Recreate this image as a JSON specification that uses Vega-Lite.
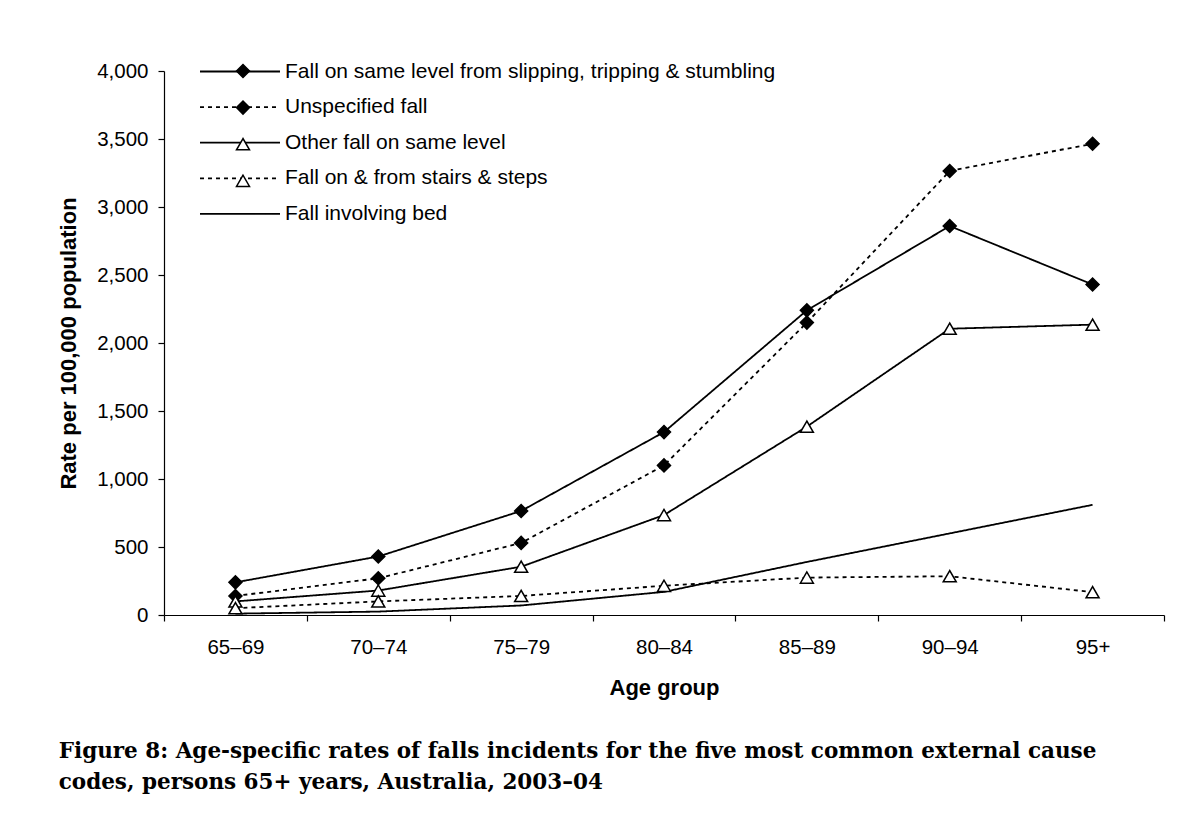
{
  "$schema": "https://vega.github.io/schema/vega-lite/v6.json",
  "width": 1000,
  "height": 544,
  "autosize": {"type": "none"},
  "padding": {"left": 164, "top": 71, "right": 30, "bottom": 206},
  "background": "white",
  "config": {
    "font": "Liberation Sans",
    "view": {"stroke": null},
    "axis": {"domainColor": "black", "tickColor": "black", "labelColor": "black", "titleColor": "black", "grid": false, "labelFontSize": 20.5, "titleFontSize": 22, "titleFontWeight": "bold", "domainWidth": 1.2, "tickWidth": 1.2}
  },
  "title": {
    "text": ["Figure 8: Age-specific rates of falls incidents for the five most common external cause", "codes, persons 65+ years, Australia, 2003–04"],
    "orient": "bottom",
    "anchor": "start",
    "frame": "bounds",
    "font": "DejaVu Serif",
    "fontSize": 21.5,
    "fontWeight": "bold",
    "color": "black",
    "lineHeight": 31,
    "offset": 42,
    "dx": 1
  },
  "data": {
    "values": [
      {"age": "65–69", "series": "Fall on same level from slipping, tripping & stumbling", "rate": 240},
      {"age": "70–74", "series": "Fall on same level from slipping, tripping & stumbling", "rate": 430},
      {"age": "75–79", "series": "Fall on same level from slipping, tripping & stumbling", "rate": 765},
      {"age": "80–84", "series": "Fall on same level from slipping, tripping & stumbling", "rate": 1345},
      {"age": "85–89", "series": "Fall on same level from slipping, tripping & stumbling", "rate": 2240},
      {"age": "90–94", "series": "Fall on same level from slipping, tripping & stumbling", "rate": 2860},
      {"age": "95+", "series": "Fall on same level from slipping, tripping & stumbling", "rate": 2430},
      {"age": "65–69", "series": "Unspecified fall", "rate": 140},
      {"age": "70–74", "series": "Unspecified fall", "rate": 270},
      {"age": "75–79", "series": "Unspecified fall", "rate": 530},
      {"age": "80–84", "series": "Unspecified fall", "rate": 1100},
      {"age": "85–89", "series": "Unspecified fall", "rate": 2150},
      {"age": "90–94", "series": "Unspecified fall", "rate": 3265},
      {"age": "95+", "series": "Unspecified fall", "rate": 3465},
      {"age": "65–69", "series": "Other fall on same level", "rate": 100},
      {"age": "70–74", "series": "Other fall on same level", "rate": 180},
      {"age": "75–79", "series": "Other fall on same level", "rate": 355},
      {"age": "80–84", "series": "Other fall on same level", "rate": 735},
      {"age": "85–89", "series": "Other fall on same level", "rate": 1385},
      {"age": "90–94", "series": "Other fall on same level", "rate": 2105},
      {"age": "95+", "series": "Other fall on same level", "rate": 2135},
      {"age": "65–69", "series": "Fall on & from stairs & steps", "rate": 50},
      {"age": "70–74", "series": "Fall on & from stairs & steps", "rate": 100},
      {"age": "75–79", "series": "Fall on & from stairs & steps", "rate": 140},
      {"age": "80–84", "series": "Fall on & from stairs & steps", "rate": 215},
      {"age": "85–89", "series": "Fall on & from stairs & steps", "rate": 275},
      {"age": "90–94", "series": "Fall on & from stairs & steps", "rate": 285},
      {"age": "95+", "series": "Fall on & from stairs & steps", "rate": 168},
      {"age": "65–69", "series": "Fall involving bed", "rate": 10},
      {"age": "70–74", "series": "Fall involving bed", "rate": 25},
      {"age": "75–79", "series": "Fall involving bed", "rate": 70},
      {"age": "80–84", "series": "Fall involving bed", "rate": 170},
      {"age": "85–89", "series": "Fall involving bed", "rate": 390},
      {"age": "90–94", "series": "Fall involving bed", "rate": 600},
      {"age": "95+", "series": "Fall involving bed", "rate": 810}
    ]
  },
  "encoding": {
    "x": {
      "field": "age", "type": "nominal",
      "sort": ["65–69", "70–74", "75–79", "80–84", "85–89", "90–94", "95+"],
      "scale": {"paddingInner": 0, "paddingOuter": 0},
      "axis": {"title": "Age group", "labelAngle": 0, "tickBand": "extent", "tickSize": 6, "labelPadding": 16, "titlePadding": 20}
    },
    "y": {
      "field": "rate", "type": "quantitative",
      "scale": {"domain": [0, 4000], "nice": false},
      "axis": {"title": "Rate per 100,000 population", "values": [0, 500, 1000, 1500, 2000, 2500, 3000, 3500, 4000], "format": ",d", "tickSize": 6, "labelPadding": 10, "titlePadding": 16}
    }
  },
  "layer": [
    {
      "mark": {"type": "line", "color": "black", "strokeWidth": 1.8},
      "encoding": {
        "strokeDash": {
          "field": "series", "type": "nominal",
          "sort": ["Fall on same level from slipping, tripping & stumbling", "Unspecified fall", "Other fall on same level", "Fall on & from stairs & steps", "Fall involving bed"],
          "scale": {"range": [[1, 0], [4, 4], [1, 0], [4, 4], [1, 0]]},
          "legend": {
            "title": null, "orient": "none", "legendX": 65, "legendY": -10.5,
            "symbolType": "M-4,0H4", "symbolSize": 400, "symbolStrokeWidth": 1.8, "symbolStrokeColor": "black", "symbolFillColor": "transparent",
            "labelFontSize": 21, "labelColor": "black", "labelOffset": 34, "rowPadding": 14.6, "padding": 0, "labelLimit": 700
          }
        }
      }
    },
    {
      "mark": {"type": "point", "filled": true, "stroke": "black", "strokeWidth": 1.5, "size": 169, "opacity": 1},
      "encoding": {
        "shape": {
          "field": "series", "type": "nominal",
          "scale": {"domain": ["Fall on same level from slipping, tripping & stumbling", "Unspecified fall", "Other fall on same level", "Fall on & from stairs & steps", "Fall involving bed"], "range": ["diamond", "diamond", "triangle-up", "triangle-up", "M0,0"]},
          "legend": {
            "title": null, "orient": "none", "legendX": 68.5, "legendY": -10.5,
            "symbolSize": 169, "symbolStrokeWidth": 1.5, "symbolStrokeColor": "black", "symbolOpacity": 1,
            "labelFontSize": 21, "labelExpr": "''", "rowPadding": 14.6, "padding": 0, "labelLimit": 700,
            "encode": {"symbols": {"update": {"stroke": {"value": "black"}, "strokeWidth": {"value": 1.5}}}}
          }
        },
        "fill": {
          "field": "series", "type": "nominal",
          "scale": {"domain": ["Fall on same level from slipping, tripping & stumbling", "Unspecified fall", "Other fall on same level", "Fall on & from stairs & steps", "Fall involving bed"], "range": ["black", "black", "white", "white", "white"]},
          "legend": {
            "title": null, "orient": "none", "legendX": 68.5, "legendY": -10.5,
            "symbolSize": 169, "symbolStrokeWidth": 1.5, "symbolStrokeColor": "black", "symbolOpacity": 1,
            "labelFontSize": 21, "labelExpr": "''", "rowPadding": 14.6, "padding": 0, "labelLimit": 700,
            "encode": {"symbols": {"update": {"stroke": {"value": "black"}, "strokeWidth": {"value": 1.5}}}}
          }
        }
      }
    }
  ]
}
